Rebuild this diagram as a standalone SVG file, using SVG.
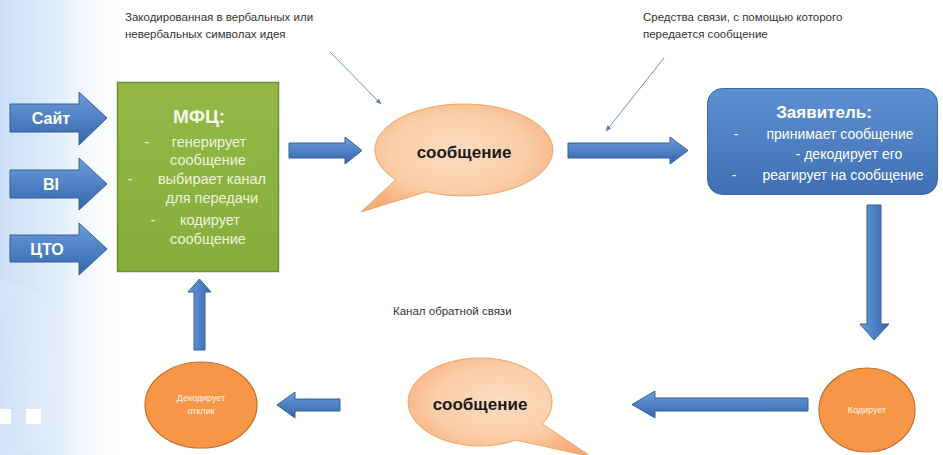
<svg xmlns="http://www.w3.org/2000/svg" width="943" height="455" viewBox="0 0 943 455">
  <defs>
    <linearGradient id="bgL" x1="0" y1="0" x2="1" y2="0">
      <stop offset="0" stop-color="#c9def5"/>
      <stop offset="0.5" stop-color="#e6f0fb"/>
      <stop offset="1" stop-color="#ffffff" stop-opacity="0"/>
    </linearGradient>
    <radialGradient id="bgGlow" cx="0" cy="0.5" r="1">
      <stop offset="0" stop-color="#9ec8f2"/>
      <stop offset="1" stop-color="#ffffff" stop-opacity="0"/>
    </radialGradient>
    <linearGradient id="blueArrow" x1="0" y1="0" x2="0" y2="1">
      <stop offset="0" stop-color="#6c9edb"/>
      <stop offset="0.5" stop-color="#4f81c4"/>
      <stop offset="1" stop-color="#3566a8"/>
    </linearGradient>
    <linearGradient id="blueArrowV" x1="0" y1="0" x2="1" y2="0">
      <stop offset="0" stop-color="#6c9edb"/>
      <stop offset="0.5" stop-color="#4f81c4"/>
      <stop offset="1" stop-color="#3566a8"/>
    </linearGradient>
    <linearGradient id="blueBox" x1="0" y1="0" x2="0" y2="1">
      <stop offset="0" stop-color="#5d90d2"/>
      <stop offset="1" stop-color="#3f70b3"/>
    </linearGradient>
    <linearGradient id="greenBox" x1="0" y1="0" x2="0" y2="1">
      <stop offset="0" stop-color="#93b847"/>
      <stop offset="1" stop-color="#86ad3c"/>
    </linearGradient>
    <radialGradient id="peach" cx="0.5" cy="0.45" r="0.6">
      <stop offset="0" stop-color="#fcdcc2"/>
      <stop offset="0.6" stop-color="#fbcea8"/>
      <stop offset="1" stop-color="#f5ad78"/>
    </radialGradient>
    <marker id="thinHead" viewBox="0 0 10 10" refX="9" refY="5" markerWidth="6" markerHeight="6" orient="auto">
      <path d="M0 1 L10 5 L0 9 Z" fill="#5b7fc0"/>
    </marker>
    <style>
      .note { font-family: "Liberation Sans", "DejaVu Sans", sans-serif; font-size: 11.5px; fill: #333333; }
      .arrow { fill: url(#blueArrow); stroke: #36619c; stroke-width: 1; }
      .arrowV { fill: url(#blueArrowV); stroke: #36619c; stroke-width: 1; }
      .inLabel { font-family: "Liberation Sans", "DejaVu Sans", sans-serif; font-size: 16px; font-weight: bold; fill: #ffffff; text-anchor: middle; }
      .gTitle { font-family: "Liberation Sans", "DejaVu Sans", sans-serif; font-size: 19px; font-weight: bold; fill: #f4f8ea; text-anchor: middle; }
      .gText { font-family: "Liberation Sans", "DejaVu Sans", sans-serif; font-size: 14.5px; fill: #eef4dc; text-anchor: middle; }
      .bTitle { font-family: "Liberation Sans", "DejaVu Sans", sans-serif; font-size: 17px; font-weight: bold; fill: #ffffff; text-anchor: middle; }
      .bText { font-family: "Liberation Sans", "DejaVu Sans", sans-serif; font-size: 14px; fill: #ffffff; text-anchor: middle; }
      .bubble { fill: url(#peach); stroke: #efa466; stroke-width: 1; }
      .bubbleText { font-family: "Liberation Sans", "DejaVu Sans", sans-serif; font-size: 17px; font-weight: bold; fill: #1a1a1a; text-anchor: middle; }
      .orange { fill: #f79646; stroke: #c46f2c; stroke-width: 1.2; }
      .oText { font-family: "Liberation Sans", "DejaVu Sans", sans-serif; font-size: 9px; fill: #fff4ea; text-anchor: middle; }
      .pointer { stroke: #6f8fc8; stroke-width: 1; fill: none; marker-end: url(#thinHead); }
    </style>
  </defs>

  <!-- background -->
  <rect x="0" y="0" width="943" height="455" fill="#ffffff"/>
  <rect x="0" y="0" width="130" height="455" fill="url(#bgL)"/>
  <ellipse cx="0" cy="370" rx="70" ry="90" fill="url(#bgGlow)"/>
  <rect x="0" y="409" width="11" height="15" fill="#ffffff"/>
  <rect x="26" y="409" width="15" height="15" fill="#ffffff"/>

  <!-- annotations -->
  <g id="note-idea">
    <text class="note" x="125" y="21">Закодированная в вербальных или</text>
    <text class="note" x="125" y="38">невербальных символах идея</text>
  </g>
  <g id="note-channel">
    <text class="note" x="643" y="21">Средства связи, с помощью которого</text>
    <text class="note" x="643" y="38">передается сообщение</text>
  </g>
  <g id="note-feedback">
    <text class="note" x="393" y="315">Канал обратной связи</text>
  </g>

  <!-- input arrows -->
  <g id="in-site">
    <path class="arrow" d="M10 104 H79 V92 L107 118 L79 145 V132 H10 Z"/>
    <text class="inLabel" x="51" y="124">Сайт</text>
  </g>
  <g id="in-bi">
    <path class="arrow" d="M10 170 H79 V158 L107 184 L79 210 V198 H10 Z"/>
    <text class="inLabel" x="51" y="190">BI</text>
  </g>
  <g id="in-cto">
    <path class="arrow" d="M10 235 H79 V223 L107 249 L79 275 V262 H10 Z"/>
    <text class="inLabel" x="47" y="255">ЦТО</text>
  </g>

  <!-- MFC box -->
  <g id="mfc">
    <rect x="117.5" y="82.5" width="161" height="189" fill="url(#greenBox)" stroke="#6f8f35" stroke-width="1.5"/>
    <text class="gTitle" x="199" y="123">МФЦ:</text>
    <text class="gText" x="147" y="147">-</text>
    <text class="gText" x="209" y="147">генерирует</text>
    <text class="gText" x="208" y="165">сообщение</text>
    <text class="gText" x="130" y="184">-</text>
    <text class="gText" x="212" y="184">выбирает канал</text>
    <text class="gText" x="212" y="203">для передачи</text>
    <text class="gText" x="153" y="225">-</text>
    <text class="gText" x="210" y="225">кодирует</text>
    <text class="gText" x="208" y="244">сообщение</text>
  </g>

  <!-- message bubble 1 -->
  <g id="bubble-top">
    <path class="bubble" d="M426.4 191.7 L361 212 L395.8 179.6 A89 46 0 1 1 426.4 191.7 Z"/>
    <text class="bubbleText" x="464" y="158">сообщение</text>
  </g>

  <!-- applicant box -->
  <g id="applicant">
    <rect x="707.5" y="88.5" width="230" height="106" rx="15" fill="url(#blueBox)" stroke="#3b679f" stroke-width="1"/>
    <text class="bTitle" x="824" y="118">Заявитель:</text>
    <text class="bText" x="736" y="139">-</text>
    <text class="bText" x="840" y="139">принимает сообщение</text>
    <text class="bText" x="849" y="159">- декодирует его</text>
    <text class="bText" x="734" y="180">-</text>
    <text class="bText" x="843" y="180">реагирует на сообщение</text>
  </g>

  <!-- encode circle -->
  <g id="encode">
    <ellipse class="orange" cx="867" cy="410" rx="48" ry="42"/>
    <text class="oText" x="867" y="413">Кодирует</text>
  </g>

  <!-- message bubble 2 -->
  <g id="bubble-bottom">
    <path class="bubble" d="M516 440.1 L592 457 L542.4 424 A72 44 0 1 0 516 440.1 Z"/>
    <text class="bubbleText" x="480" y="410">сообщение</text>
  </g>

  <!-- decode circle -->
  <g id="decode">
    <ellipse class="orange" cx="201" cy="405" rx="56" ry="43"/>
    <text class="oText" x="201" y="401">Декодирует</text>
    <text class="oText" x="201" y="414">отклик</text>
  </g>

  <!-- connectors -->
  <g id="connectors">
    <path class="arrow" d="M289 143 H345 V137 L362 150.5 L345 164 V158 H289 Z"/>
    <path class="arrow" d="M568 143 H670 V137 L688 150.5 L670 164 V158 H568 Z"/>
    <path class="arrowV" d="M867 205 H881 V324 H889 L874 340 L860 324 H867 Z"/>
    <path class="arrow" d="M808 398 H655 V391 L632 404.5 L655 418 V411 H808 Z"/>
    <path class="arrow" d="M340 399 H295 V392 L277 405 L295 418 V411 H340 Z"/>
    <path class="arrowV" d="M194 350 V292 H188 L199.5 279 L211 292 H205 V350 Z"/>
    <line class="pointer" x1="330" y1="52" x2="381" y2="104"/>
    <line class="pointer" x1="664" y1="58" x2="606" y2="131"/>
  </g>
</svg>
